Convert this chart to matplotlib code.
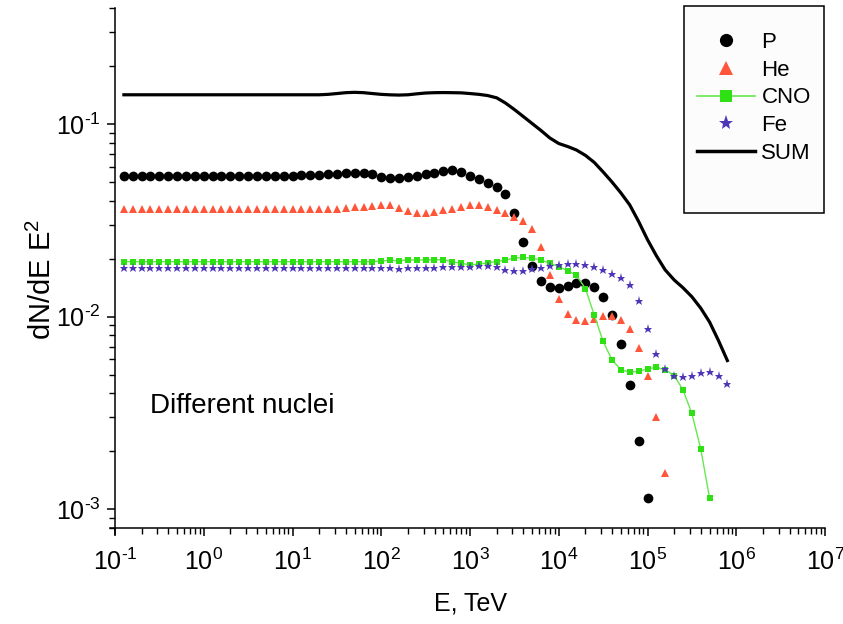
import matplotlib
matplotlib.use("Agg")
import matplotlib.pyplot as plt
from matplotlib.lines import Line2D
from matplotlib.patches import Rectangle
from matplotlib.ticker import LogLocator, NullFormatter, FuncFormatter
import numpy as np

plt.rcParams["font.family"] = ["Liberation Sans", "DejaVu Sans"]
plt.rcParams["mathtext.fontset"] = "custom"
plt.rcParams["mathtext.rm"] = "Liberation Sans"
plt.rcParams["mathtext.it"] = "Liberation Sans:italic"

# energy grid, TeV (10 points per decade)
energy = [
    0.126, 0.158, 0.200, 0.251, 0.316, 0.398, 0.501, 0.631, 0.794,
    1.00, 1.26, 1.58, 2.00, 2.51, 3.16, 3.98, 5.01, 6.31, 7.94,
    10.0, 12.6, 15.8, 20.0, 25.1, 31.6, 39.8, 50.1, 63.1, 79.4,
    1.00e2, 1.26e2, 1.58e2, 2.00e2, 2.51e2, 3.16e2, 3.98e2, 5.01e2, 6.31e2, 7.94e2,
    1.00e3, 1.26e3, 1.58e3, 2.00e3, 2.51e3, 3.16e3, 3.98e3, 5.01e3, 6.31e3, 7.94e3,
    1.00e4, 1.26e4, 1.58e4, 2.00e4, 2.51e4, 3.16e4, 3.98e4, 5.01e4, 6.31e4, 7.94e4,
    1.00e5, 1.26e5, 1.58e5, 2.00e5, 2.51e5, 3.16e5, 3.98e5, 5.01e5, 6.31e5, 7.94e5,
]

p_vals = [0.0538] * 20 + [
    0.0541, 0.0543, 0.0545, 0.0547, 0.0550, 0.0555, 0.0559, 0.0559, 0.0549, 0.0533,
    0.0525, 0.0527, 0.0531, 0.0538, 0.0549, 0.0559, 0.0571, 0.0576, 0.0564, 0.0538,
    0.0517, 0.0496, 0.0473, 0.0432, 0.0345, 0.0245, 0.0184, 0.0154, 0.0143, 0.0141,
    0.0145, 0.0149, 0.0149, 0.0142, 0.0127, 0.0102, 0.00722, 0.00441, 0.00226, 0.00114,
]
he_vals = [0.0361] * 24 + [
    0.0363, 0.0366, 0.0369, 0.0373, 0.0377, 0.0380, 0.0380, 0.0366, 0.0352, 0.0347,
    0.0347, 0.0350, 0.0357, 0.0364, 0.0371, 0.0379, 0.0381, 0.0371, 0.0357, 0.0345,
    0.0331, 0.0314, 0.0285, 0.0229, 0.0164, 0.01235, 0.01033, 0.00961, 0.00953, 0.00973,
    0.01004, 0.01004, 0.00965, 0.00860, 0.00688, 0.00493, 0.00302, 0.00155,
]
cno_vals = [0.0193] * 29 + [
    0.0195, 0.0196, 0.0195, 0.0197, 0.0197, 0.0197, 0.0198, 0.0197, 0.0193, 0.0189,
    0.0186, 0.0187, 0.0191, 0.0193, 0.0197, 0.0201, 0.0203, 0.0201, 0.0197, 0.0189,
    0.0182, 0.0173, 0.0164, 0.0140, 0.0102, 0.00745, 0.00597, 0.00531, 0.00514, 0.00521,
    0.00536, 0.00546, 0.00531, 0.00495, 0.00417, 0.00315, 0.00206, 0.00114,
]
fe_vals = [0.0178] * 31 + [
    0.0177, 0.0178, 0.0179, 0.0179, 0.0179, 0.0180, 0.0182, 0.0182, 0.0182, 0.0183,
    0.0184, 0.0180, 0.0175, 0.0173, 0.0173, 0.0176, 0.0179, 0.0183, 0.0185, 0.0188,
    0.0188, 0.0185, 0.0181, 0.0174, 0.0167, 0.0159, 0.0146, 0.0121, 0.00864, 0.00641,
    0.00533, 0.00493, 0.00485, 0.00495, 0.00508, 0.00517, 0.00495, 0.00448,
]
sum_vals = [0.1418] * 23 + [
    0.1425, 0.1439, 0.1454, 0.1460, 0.1454, 0.1439, 0.1425, 0.1417, 0.1413, 0.1418,
    0.1434, 0.1448, 0.1454, 0.1456, 0.1454, 0.1451, 0.1439, 0.1425, 0.1405, 0.1367,
    0.1285, 0.1189, 0.1094, 0.1006, 0.0925, 0.0846, 0.0792, 0.0764, 0.0733, 0.0687,
    0.0632, 0.0564, 0.0500, 0.0439, 0.0380, 0.0312, 0.0251, 0.0207, 0.0175, 0.0155,
    0.01413, 0.01269, 0.01107, 0.00937, 0.00751, 0.00592,
]

he_color = "#ff5538"
cno_color = "#2fe014"
cno_line = "#66e84f"
fe_color = "#4f35b8"


def pow10(v, pos):
    e = int(round(np.log10(v)))
    s = str(e).replace("-", "\u2010")
    return "$\\mathdefault{10^{%s}}$" % s


fig = plt.figure(figsize=(8.43, 6.24), dpi=100)
ax = fig.add_axes([115 / 843, 1 - 528 / 624, 710 / 843, 520 / 624])

ax.plot(energy[:len(p_vals)], p_vals, ls="none", marker="o", ms=7, color="black", mew=0)
ax.plot(energy[:len(he_vals)], he_vals, ls="none", marker="^", ms=5.5, color=he_color, mew=0)
ax.plot(energy[:len(cno_vals)], cno_vals, ls="-", lw=1, color=cno_line,
        marker="s", ms=4.2, mfc=cno_color, mec=cno_color, mew=0)
ax.plot(energy[:len(fe_vals)], fe_vals, ls="none", marker="*", ms=6.5, color=fe_color, mew=0)
ax.plot(energy[:len(sum_vals)], sum_vals, ls="-", lw=2.3, color="black")

ax.set_xscale("log")
ax.set_yscale("log")
ax.set_xlim(0.1, 1e7)
ax.set_ylim(8e-4, 0.4)

ax.xaxis.set_major_locator(LogLocator(base=10, numticks=20))
ax.xaxis.set_minor_locator(LogLocator(base=10, subs=range(2, 10), numticks=20))
ax.xaxis.set_major_formatter(FuncFormatter(pow10))
ax.yaxis.set_major_formatter(FuncFormatter(pow10))
ax.xaxis.set_minor_formatter(NullFormatter())
ax.yaxis.set_minor_formatter(NullFormatter())

for s in ["top", "right"]:
    ax.spines[s].set_visible(False)
for s in ["left", "bottom"]:
    ax.spines[s].set_linewidth(1.1)
ax.spines["bottom"].set_bounds(0.1 / 10 ** (5 / 88.75), 1e7)
ax.spines["left"].set_bounds(8e-4 / 10 ** (6 / 193), 0.4)

ax.tick_params(which="major", direction="out", length=6, width=1.1, labelsize=18)
ax.tick_params(which="minor", direction="out", length=4, width=1.0)
ax.tick_params(axis="x", which="major", pad=9)
ax.tick_params(axis="y", which="major", pad=4)

ax.set_xlabel("E, TeV", fontsize=18, labelpad=12)
ax.set_ylabel("dN/dE E$^{2}$", fontsize=21)
ax.yaxis.set_label_coords(-0.082, 0.477)

ax.text(0.049, 0.235, "Different nuclei", transform=ax.transAxes, fontsize=20,
        va="center", ha="left")

# legend box
frame = Rectangle((684 / 843, 1 - 213 / 624), 140 / 843, 207 / 624,
                  transform=fig.transFigure, facecolor="#fcfcfc", edgecolor="black",
                  lw=1.1, zorder=4.5, clip_on=False)
ax.add_patch(frame)

handles = [
    Line2D([], [], ls="none", marker="o", ms=9.5, color="black", mew=0),
    Line2D([], [], ls="none", marker="^", ms=10.5, color=he_color, mew=0),
    Line2D([], [], ls="-", lw=1.2, color=cno_line, marker="s", ms=8,
           mfc=cno_color, mec=cno_color, mew=0),
    Line2D([], [], ls="none", marker="*", ms=11, color=fe_color, mew=0),
    Line2D([], [], ls="-", lw=2.5, color="black"),
]
labels = ["P", "He", "CNO", "Fe", "SUM"]
leg = ax.legend(handles, labels, loc="upper left",
                bbox_to_anchor=(697 / 843, 1 - 32 / 624),
                bbox_transform=fig.transFigure, frameon=False, fontsize=16,
                handlelength=2.6, handletextpad=0.3, labelspacing=0.3,
                borderpad=0, borderaxespad=0)
leg.set_zorder(6)

fig.savefig("out.png", dpi=100)
